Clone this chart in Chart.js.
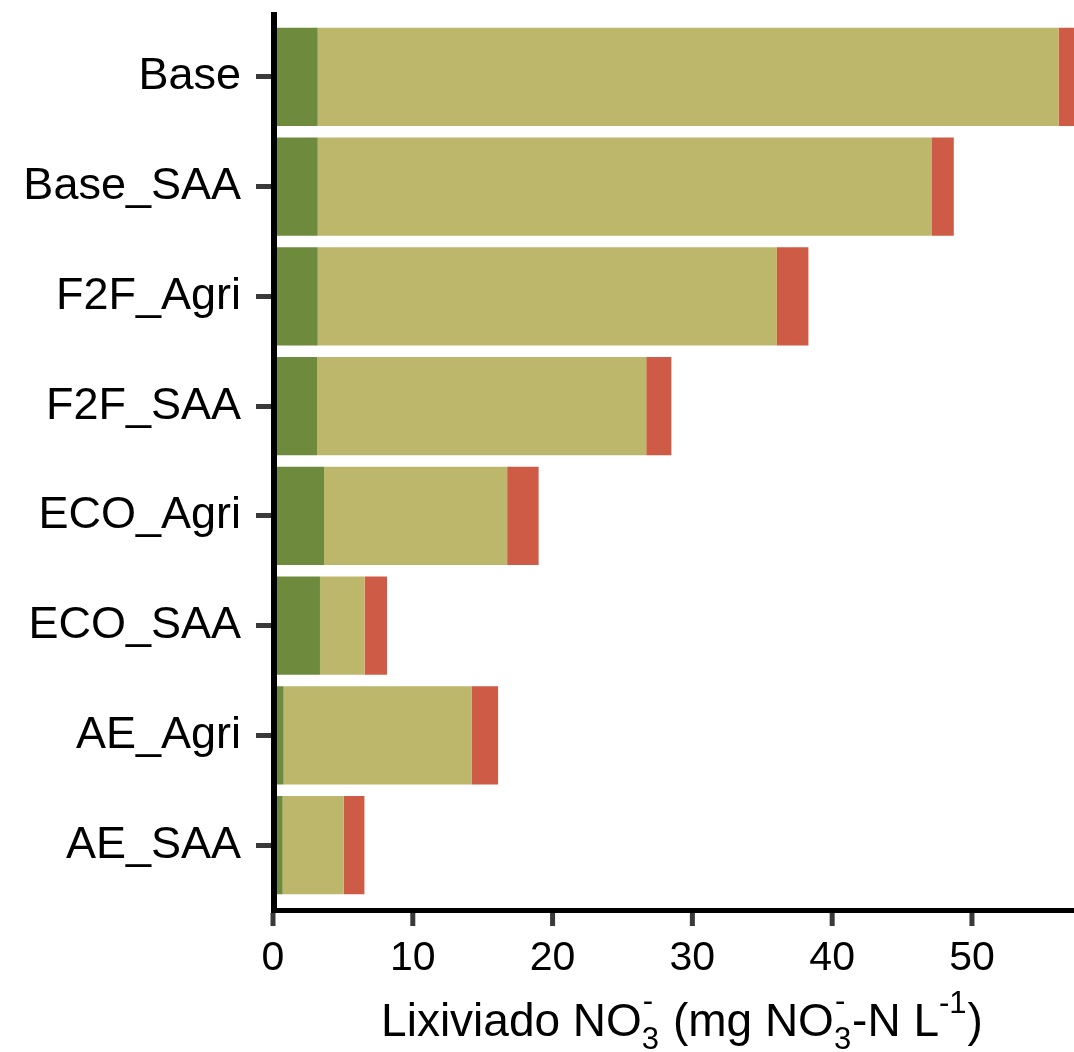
<!DOCTYPE html>
<html><head><meta charset="utf-8">
<script src="https://cdn.jsdelivr.net/npm/chart.js@4/dist/chart.umd.min.js"></script>
<style>html,body{margin:0;padding:0;background:#fff;}#wrap{width:1074px;height:1052px;}</style>
</head><body><div id="wrap"><canvas id="c" width="1074" height="1052"></canvas></div>
<script>
// Data
const categories = ['Base','Base_SAA','F2F_Agri','F2F_SAA','ECO_Agri','ECO_SAA','AE_Agri','AE_SAA'];
const seriesGreen = [3.2, 3.2, 3.2, 3.15, 3.65, 3.36, 0.76, 0.69];
const seriesKhaki = [53.0, 43.9, 32.85, 23.55, 13.1, 3.2, 13.44, 4.37];
const seriesRed   = [1.6, 1.6, 2.25, 1.8, 2.25, 1.6, 1.9, 1.48];
const xTickValues = [0, 10, 20, 30, 40, 50];
const xMax = 57.3;

const FONT = '"Liberation Sans", Arial, Helvetica, sans-serif';
const AXIS_GAP = 10;

const axisPlugin = {
  id: 'axisPlugin',
  afterDraw(chart) {
    const ctx = chart.ctx;
    const a = chart.chartArea;
    const xs = chart.scales.x;
    ctx.save();
    ctx.fillStyle = '#000';
    ctx.fillRect(a.left - 2, a.top - AXIS_GAP, 6, a.bottom - a.top + 2 * AXIS_GAP + 2);
    ctx.fillRect(a.left - 2, a.bottom + AXIS_GAP - 2, a.right - a.left + 2, 5);
    ctx.fillStyle = '#3a3a3a';
    xs.ticks.forEach(t => {
      const px = xs.getPixelForValue(t.value);
      ctx.fillRect(px - 2.5, a.bottom + AXIS_GAP + 3, 5, 13);
    });
    const big = '46px ' + FONT;
    const small = '31px ' + FONT;
    const parts = [
      {t: 'Lixiviado NO', f: big},
      {stack: ['-', '3']},
      {t: ' (mg NO', f: big},
      {stack: ['-', '3']},
      {t: '-N L', f: big},
      {sup: '-1'},
      {t: ')', f: big}
    ];
    const widths = parts.map(p => {
      if (p.t) { ctx.font = p.f; return ctx.measureText(p.t).width; }
      ctx.font = small;
      if (p.stack) return Math.max(ctx.measureText(p.stack[0]).width, ctx.measureText(p.stack[1]).width) + 1;
      return ctx.measureText(p.sup).width + 1;
    });
    const total = widths.reduce((s, w) => s + w, 0);
    let x = 682 - total / 2;
    const base = 1036;
    ctx.fillStyle = '#000';
    ctx.textBaseline = 'alphabetic';
    ctx.textAlign = 'left';
    parts.forEach((p, i) => {
      if (p.t) { ctx.font = p.f; ctx.fillText(p.t, x, base); }
      else if (p.stack) {
        ctx.font = small;
        ctx.fillText(p.stack[0], x + 1, base - 25);
        ctx.fillText(p.stack[1], x, base + 13);
      } else {
        ctx.font = small;
        ctx.fillText(p.sup, x, base - 23);
      }
      x += widths[i];
    });
    ctx.restore();
  }
};

new Chart(document.getElementById('c'), {
  type: 'bar',
  data: {
    labels: categories,
    datasets: [
      {label: 'A', data: seriesGreen, backgroundColor: '#6E8B3D'},
      {label: 'B', data: seriesKhaki, backgroundColor: '#BDB76B'},
      {label: 'C', data: seriesRed, backgroundColor: '#CD5B45'}
    ]
  },
  options: {
    indexAxis: 'y',
    responsive: false,
    animation: false,
    devicePixelRatio: 1,
    layout: {padding: {top: 22, right: 0, bottom: 0, left: 0}},
    datasets: {bar: {categoryPercentage: 1, barPercentage: 0.893, borderWidth: 0}},
    plugins: {legend: {display: false}, tooltip: {enabled: false}},
    scales: {
      x: {
        stacked: true,
        min: 0, max: xMax,
        afterBuildTicks: s => { s.ticks = xTickValues.map(v => ({value: v})); },
        afterFit: s => { s.height = 152; s.paddingLeft = 0; s.paddingRight = 0; },
        grid: {display: false, drawTicks: false},
        border: {display: false},
        ticks: {color: '#000', font: {size: 41, family: FONT}, padding: 34, maxRotation: 0}
      },
      y: {
        stacked: true,
        afterFit: s => { s.width = 273; s.paddingTop = 0; s.paddingBottom = 0; },
        grid: {display: true, drawOnChartArea: false, offset: false, drawTicks: true, tickLength: 17, tickWidth: 5, tickColor: '#3a3a3a'},
        border: {display: false},
        ticks: {color: '#000', font: {size: 45, family: FONT}, padding: 15}
      }
    }
  },
  plugins: [axisPlugin]
});
</script></body></html>
